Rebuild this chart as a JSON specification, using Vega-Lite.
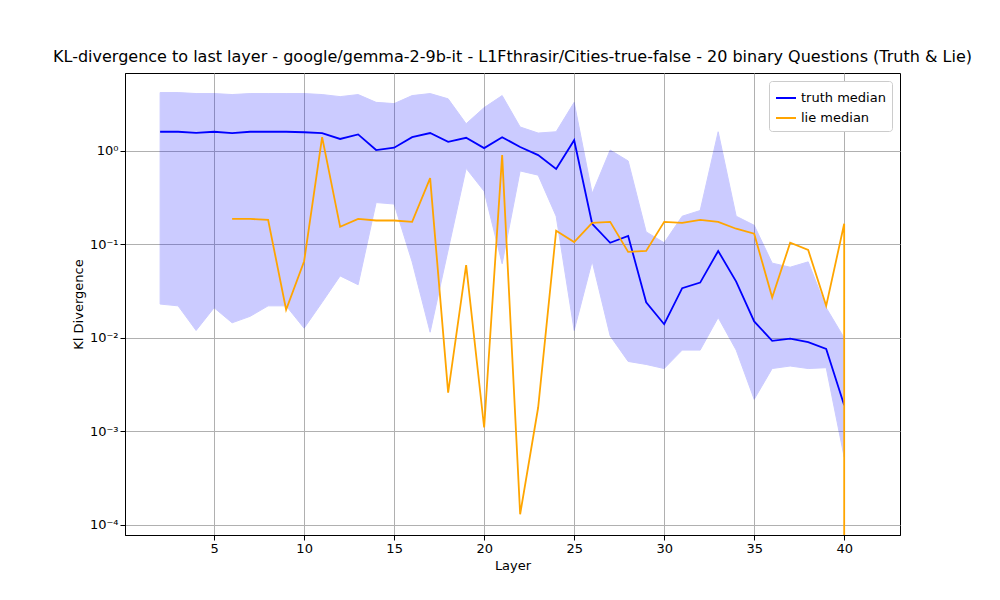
{
  "$schema": "https://vega.github.io/schema/vega-lite/v6.json",
  "width": 775,
  "height": 462,
  "autosize": "none",
  "padding": {"left": 125, "top": 73, "right": 100, "bottom": 65},
  "background": "white",
  "title": {"text": "KL-divergence to last layer - google/gemma-2-9b-it - L1Fthrasir/Cities-true-false - 20 binary Questions (Truth & Lie)", "fontSize": 16, "fontWeight": "normal", "font": "DejaVu Sans", "offset": 8},
  "config": {"font": "DejaVu Sans", "view": {"stroke": "black"}, "axis": {"labelFont": "DejaVu Sans", "titleFont": "DejaVu Sans", "labelFontSize": 13, "titleFontSize": 13, "titleFontWeight": "normal", "gridColor": "#b0b0b0", "domainColor": "black", "tickColor": "black", "labelColor": "black"}},
  "datasets": {
    "band": [
      {"layer": 2, "lo": 0.023, "hi": 4.2, "truth": 1.6},
      {"layer": 3, "lo": 0.022, "hi": 4.2, "truth": 1.6},
      {"layer": 4, "lo": 0.012, "hi": 4.1, "truth": 1.56},
      {"layer": 5, "lo": 0.021, "hi": 4.1, "truth": 1.6},
      {"layer": 6, "lo": 0.0145, "hi": 4.0, "truth": 1.55},
      {"layer": 7, "lo": 0.017, "hi": 4.1, "truth": 1.6},
      {"layer": 8, "lo": 0.022, "hi": 4.1, "truth": 1.6},
      {"layer": 9, "lo": 0.022, "hi": 4.1, "truth": 1.6},
      {"layer": 10, "lo": 0.0127, "hi": 4.1, "truth": 1.58},
      {"layer": 11, "lo": 0.024, "hi": 4.0, "truth": 1.55},
      {"layer": 12, "lo": 0.046, "hi": 3.8, "truth": 1.34},
      {"layer": 13, "lo": 0.037, "hi": 4.0, "truth": 1.5},
      {"layer": 14, "lo": 0.28, "hi": 3.3, "truth": 1.02},
      {"layer": 15, "lo": 0.27, "hi": 3.2, "truth": 1.08},
      {"layer": 16, "lo": 0.065, "hi": 3.9, "truth": 1.4},
      {"layer": 17, "lo": 0.0115, "hi": 4.1, "truth": 1.55},
      {"layer": 18, "lo": 0.087, "hi": 3.6, "truth": 1.25},
      {"layer": 19, "lo": 0.65, "hi": 1.95, "truth": 1.38},
      {"layer": 20, "lo": 0.37, "hi": 2.9, "truth": 1.07},
      {"layer": 21, "lo": 0.062, "hi": 3.9, "truth": 1.4},
      {"layer": 22, "lo": 0.61, "hi": 1.8, "truth": 1.1},
      {"layer": 23, "lo": 0.55, "hi": 1.55, "truth": 0.9},
      {"layer": 24, "lo": 0.2, "hi": 1.6, "truth": 0.64},
      {"layer": 25, "lo": 0.012, "hi": 3.3, "truth": 1.3},
      {"layer": 26, "lo": 0.066, "hi": 0.35, "truth": 0.166},
      {"layer": 27, "lo": 0.0105, "hi": 1.02, "truth": 0.104},
      {"layer": 28, "lo": 0.0056, "hi": 0.78, "truth": 0.123},
      {"layer": 29, "lo": 0.0052, "hi": 0.136, "truth": 0.024},
      {"layer": 30, "lo": 0.0047, "hi": 0.104, "truth": 0.014},
      {"layer": 31, "lo": 0.0074, "hi": 0.2, "truth": 0.034},
      {"layer": 32, "lo": 0.0074, "hi": 0.23, "truth": 0.039},
      {"layer": 33, "lo": 0.0165, "hi": 1.6, "truth": 0.085},
      {"layer": 34, "lo": 0.0074, "hi": 0.2, "truth": 0.04},
      {"layer": 35, "lo": 0.0022, "hi": 0.16, "truth": 0.015},
      {"layer": 36, "lo": 0.0047, "hi": 0.063, "truth": 0.0093},
      {"layer": 37, "lo": 0.005, "hi": 0.057, "truth": 0.0098},
      {"layer": 38, "lo": 0.0047, "hi": 0.065, "truth": 0.009},
      {"layer": 39, "lo": 0.0048, "hi": 0.021, "truth": 0.0076},
      {"layer": 40, "lo": 0.00053, "hi": 0.01, "truth": 0.0019}
    ],
    "lie": [
      {"ord": 6, "layer": 6, "value": 0.187},
      {"ord": 7, "layer": 7, "value": 0.187},
      {"ord": 8, "layer": 8, "value": 0.183},
      {"ord": 9, "layer": 9, "value": 0.02},
      {"ord": 10, "layer": 10, "value": 0.066},
      {"ord": 11, "layer": 11, "value": 1.4},
      {"ord": 12, "layer": 12, "value": 0.154},
      {"ord": 13, "layer": 13, "value": 0.187},
      {"ord": 14, "layer": 14, "value": 0.18},
      {"ord": 15, "layer": 15, "value": 0.18},
      {"ord": 16, "layer": 16, "value": 0.174},
      {"ord": 17, "layer": 17, "value": 0.51},
      {"ord": 18, "layer": 18, "value": 0.0026},
      {"ord": 19, "layer": 19, "value": 0.06},
      {"ord": 20, "layer": 20, "value": 0.0011},
      {"ord": 21, "layer": 21, "value": 0.9},
      {"ord": 22, "layer": 22, "value": 0.00013},
      {"ord": 23, "layer": 23, "value": 0.0018},
      {"ord": 24, "layer": 24, "value": 0.14},
      {"ord": 25, "layer": 25, "value": 0.106},
      {"ord": 26, "layer": 26, "value": 0.17},
      {"ord": 27, "layer": 27, "value": 0.174},
      {"ord": 28, "layer": 28, "value": 0.083},
      {"ord": 29, "layer": 29, "value": 0.085},
      {"ord": 30, "layer": 30, "value": 0.174},
      {"ord": 31, "layer": 31, "value": 0.17},
      {"ord": 32, "layer": 32, "value": 0.183},
      {"ord": 33, "layer": 33, "value": 0.174},
      {"ord": 34, "layer": 34, "value": 0.147},
      {"ord": 35, "layer": 35, "value": 0.13},
      {"ord": 36, "layer": 36, "value": 0.027},
      {"ord": 37, "layer": 37, "value": 0.104},
      {"ord": 38, "layer": 38, "value": 0.087},
      {"ord": 39, "layer": 39, "value": 0.022},
      {"ord": 40, "layer": 40, "value": 0.166},
      {"ord": 41, "layer": 40, "value": 0.000001}
    ]
  },
  "layer": [
    {
      "data": {"name": "band"},
      "mark": {"type": "area", "color": "#0000ff", "opacity": 0.2, "stroke": "#0000ff", "strokeWidth": 1, "clip": true},
      "encoding": {
        "x": {"field": "layer", "type": "quantitative", "scale": {"domain": [0.05, 43.1], "nice": false, "zero": false}, "axis": {"values": [5, 10, 15, 20, 25, 30, 35, 40], "title": "Layer", "grid": true}},
        "y": {"field": "hi", "type": "quantitative", "scale": {"type": "log", "domain": [0.000078, 6.8], "nice": false}, "axis": {"values": [0.0001, 0.001, 0.01, 0.1, 1], "title": "Kl Divergence", "grid": true, "labelExpr": "datum.value >= 0.5 ? '10⁰' : datum.value >= 0.05 ? '10⁻¹' : datum.value >= 0.005 ? '10⁻²' : datum.value >= 0.0005 ? '10⁻³' : '10⁻⁴'"}},
        "y2": {"field": "lo"}
      }
    },
    {
      "data": {"name": "band"},
      "transform": [{"calculate": "'truth median'", "as": "series"}],
      "mark": {"type": "line", "strokeWidth": 1.8, "clip": true},
      "encoding": {
        "x": {"field": "layer", "type": "quantitative"},
        "y": {"field": "truth", "type": "quantitative"},
        "color": {"field": "series", "type": "nominal", "scale": {"domain": ["truth median", "lie median"], "range": ["#0000ff", "#ffa500"]}, "legend": {"title": null, "orient": "top-right", "symbolType": "stroke", "symbolStrokeWidth": 2, "symbolSize": 400, "labelFontSize": 13, "fillColor": "white", "strokeColor": "#cccccc", "padding": 6, "cornerRadius": 3, "offset": 8}}
      }
    },
    {
      "data": {"name": "lie"},
      "transform": [{"calculate": "'lie median'", "as": "series"}],
      "mark": {"type": "line", "strokeWidth": 1.8, "clip": true},
      "encoding": {
        "x": {"field": "layer", "type": "quantitative"},
        "y": {"field": "value", "type": "quantitative"},
        "order": {"field": "ord", "type": "quantitative"},
        "color": {"field": "series", "type": "nominal"}
      }
    }
  ]
}
